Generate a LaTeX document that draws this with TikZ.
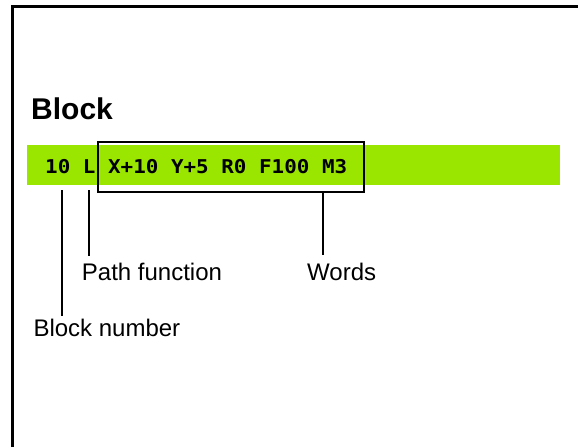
\documentclass[tikz,border=0pt]{standalone}
\usepackage{fontspec}
\usepackage{tikz}
\usetikzlibrary{positioning, calc}
\setmainfont{Liberation Sans}
\newfontfamily\codefont{DejaVu Sans Mono}
\definecolor{blockgreen}{RGB}{155, 230, 0}

\begin{document}
\begin{tikzpicture}[
    x=1pt, y=-1pt,
    title/.style={anchor=base west, inner sep=0pt, font=\fontsize{30}{34}\selectfont\bfseries},
    codebar/.style={rectangle, anchor=north west, fill=blockgreen, draw=none, minimum width=533pt, minimum height=40pt, inner sep=0pt},
    code/.style={anchor=base west, inner sep=0pt, font=\codefont\bfseries\fontsize{19}{22}\selectfont, xscale=1.1, transform shape},
    wordbox/.style={rectangle, anchor=north west, draw=black, line width=2pt, minimum width=266pt, minimum height=50pt, inner sep=0pt},
    label/.style={anchor=base west, inner sep=0pt, font=\fontsize{24}{28}\selectfont},
    leader/.style={line width=2pt},
    frame/.style={line width=3pt}
]

    \useasboundingbox (0,0) rectangle (578,447);

    \draw[frame] (12.5,447) |- (578,6.5);

    \node[title] (title) at (31,119) {Block};
    \node[codebar] (bar) at (27,145) {};
    \node[code] (line) at (45,173.3) {10 L X+10 Y+5 R0 F100 M3};
    \node[wordbox] (words) at (96.7,141) {};

    \node[label] (pathlbl) at (81.7,280) {Path function};
    \node[label] (wordlbl) at (307,280) {Words};
    \node[label] (numlbl) at (33.3,336.7) {Block number};

    \coordinate (numtop) at (61.7,190);
    \coordinate (pathtop) at (89,190);
    \coordinate (wordtop) at (322.7,191);

    \draw[leader, shorten >=3pt] (numtop) -- (numtop |- numlbl.north);
    \draw[leader, shorten >=6.5pt] (pathtop) -- (pathtop |- pathlbl.north);
    \draw[leader, shorten >=7.5pt] (wordtop) -- (wordtop |- wordlbl.north);

\end{tikzpicture}
\end{document}
